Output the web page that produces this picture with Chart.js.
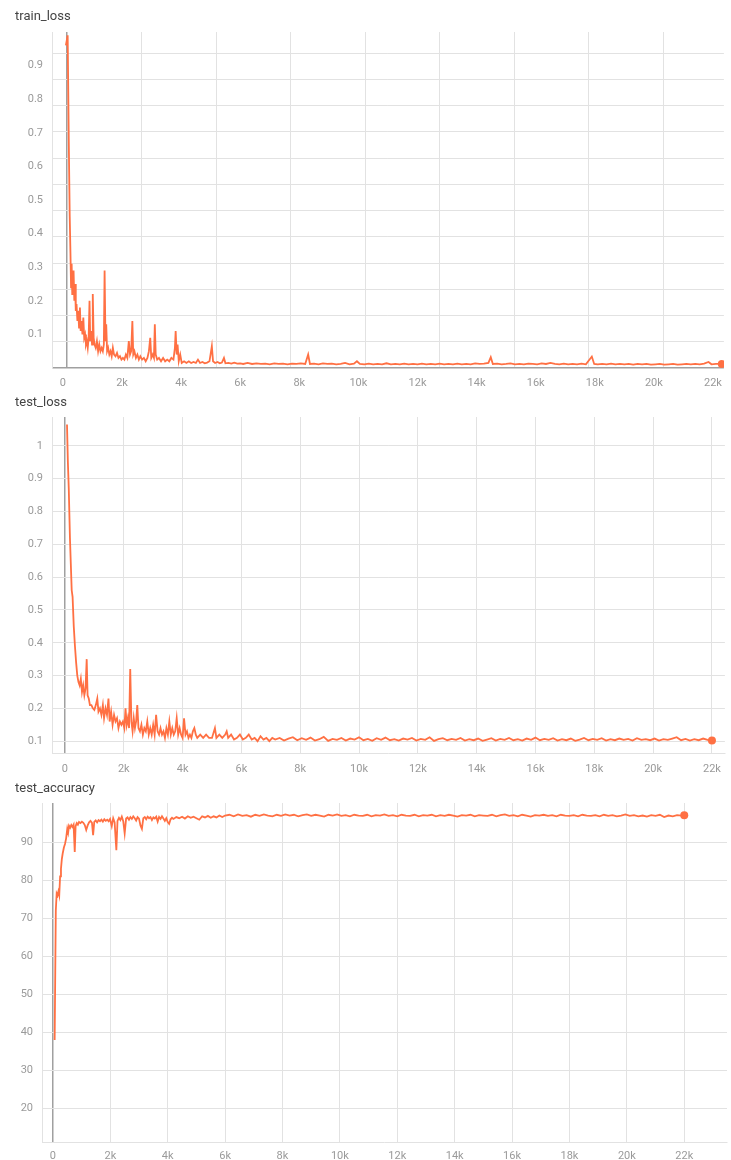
<!DOCTYPE html>
<html lang="en">
<head>
    <meta charset="UTF-8">
    <title>train / test curves</title>
    <script src="https://cdn.jsdelivr.net/npm/chart.js"></script>
    <style>
        body {
            margin: 0;
            padding: 0;
            background: #fff;
            width: 731px;
            height: 1160px;
            overflow: hidden;
            position: relative;
            font-family: Roboto, Arial, sans-serif;
        }
        .title {
            position: absolute;
            left: 15px;
            font-size: 13px;
            line-height: 16px;
            color: #444;
            z-index: 2;
        }
        canvas {
            position: absolute;
            left: 0;
        }
    </style>
</head>
<body>
    <div class="title" style="top: 8px;">train_loss</div>
    <div class="title" style="top: 394px;">test_loss</div>
    <div class="title" style="top: 780px;">test_accuracy</div>

    <canvas id="train-loss" width="731" height="395" style="top: 0px;"></canvas>
    <canvas id="test-loss" width="731" height="385" style="top: 395px;"></canvas>
    <canvas id="test-acc" width="731" height="380" style="top: 780px;"></canvas>

    <script>
        // tick labels
        const stepTicks = [0, 2000, 4000, 6000, 8000, 10000, 12000, 14000, 16000, 18000, 20000, 22000];
        const trainYTicks = [0.1, 0.2, 0.3, 0.4, 0.5, 0.6, 0.7, 0.8, 0.9];
        const testYTicks = [0.1, 0.2, 0.3, 0.4, 0.5, 0.6, 0.7, 0.8, 0.9, 1];
        const accYTicks = [20, 30, 40, 50, 60, 70, 80, 90];

        // [step, value]
        const trainLoss = [
            [100, 0.96], [160, 0.99], [200, 0.66], [230, 0.45], [255, 0.34], [275, 0.24], [295, 0.31],
            [315, 0.22], [340, 0.23], [360, 0.29], [385, 0.20], [410, 0.25], [435, 0.17], [460, 0.19],
            [490, 0.14], [520, 0.17], [545, 0.12], [575, 0.18], [600, 0.11], [630, 0.14], [660, 0.10],
            [690, 0.15], [720, 0.09], [750, 0.10], [780, 0.07], [810, 0.08], [840, 0.06], [870, 0.09],
            [900, 0.20], [925, 0.08], [955, 0.11], [985, 0.07], [1010, 0.22], [1040, 0.09], [1070, 0.07],
            [1110, 0.06], [1150, 0.08], [1190, 0.05], [1230, 0.07], [1270, 0.05], [1310, 0.06], [1350, 0.05],
            [1385, 0.07], [1410, 0.29], [1440, 0.08], [1465, 0.13], [1495, 0.05], [1530, 0.06], [1570, 0.04],
            [1610, 0.05], [1650, 0.035], [1690, 0.06], [1730, 0.04], [1780, 0.035], [1830, 0.045], [1880, 0.03],
            [1930, 0.035], [1980, 0.025], [2030, 0.03], [2080, 0.025], [2130, 0.04], [2180, 0.03], [2230, 0.08],
            [2270, 0.04], [2310, 0.05], [2350, 0.14], [2380, 0.04], [2420, 0.05], [2470, 0.03], [2520, 0.04],
            [2570, 0.025], [2620, 0.035], [2680, 0.025], [2740, 0.03], [2800, 0.02], [2860, 0.03], [2910, 0.05],
            [2955, 0.09], [2990, 0.03], [3040, 0.04], [3080, 0.03], [3110, 0.13], [3140, 0.04], [3190, 0.025],
            [3250, 0.03], [3320, 0.02], [3390, 0.03], [3460, 0.02], [3530, 0.025], [3600, 0.02], [3670, 0.03],
            [3740, 0.025], [3790, 0.06], [3815, 0.11], [3850, 0.04], [3880, 0.07], [3920, 0.02], [3970, 0.04],
            [4020, 0.015], [4100, 0.02], [4180, 0.015], [4260, 0.02], [4340, 0.015], [4420, 0.018], [4500, 0.015],
            [4570, 0.025], [4640, 0.015], [4720, 0.018], [4800, 0.014], [4880, 0.016], [4960, 0.02], [5040, 0.065],
            [5080, 0.02], [5150, 0.015], [5230, 0.018], [5310, 0.014], [5380, 0.016], [5450, 0.03], [5500, 0.014],
            [5600, 0.015], [5700, 0.013], [5800, 0.016], [5900, 0.013], [6000, 0.014], [6100, 0.012], [6250, 0.015],
            [6400, 0.012], [6550, 0.014], [6700, 0.012], [6850, 0.013], [7000, 0.011], [7150, 0.014], [7300, 0.012],
            [7450, 0.013], [7600, 0.011], [7750, 0.013], [7900, 0.012], [8050, 0.014], [8200, 0.012], [8300, 0.040],
            [8360, 0.012], [8500, 0.013], [8650, 0.011], [8800, 0.014], [8950, 0.012], [9100, 0.013], [9250, 0.011],
            [9400, 0.012], [9550, 0.015], [9700, 0.011], [9850, 0.013], [9950, 0.020], [10050, 0.012], [10200, 0.011],
            [10350, 0.013], [10500, 0.011], [10650, 0.012], [10800, 0.011], [10950, 0.014], [11100, 0.011], [11250, 0.012],
            [11400, 0.011], [11550, 0.013], [11700, 0.011], [11850, 0.012], [12000, 0.011], [12150, 0.013], [12300, 0.011],
            [12450, 0.012], [12600, 0.011], [12750, 0.013], [12900, 0.011], [13050, 0.012], [13200, 0.011], [13350, 0.013],
            [13500, 0.011], [13650, 0.012], [13800, 0.011], [13950, 0.014], [14100, 0.012], [14250, 0.013], [14400, 0.015],
            [14480, 0.032], [14550, 0.012], [14700, 0.013], [14850, 0.011], [15000, 0.012], [15150, 0.014], [15300, 0.011],
            [15450, 0.012], [15600, 0.011], [15750, 0.013], [15900, 0.012], [16050, 0.011], [16200, 0.014], [16350, 0.012],
            [16500, 0.015], [16650, 0.012], [16800, 0.011], [16950, 0.013], [17100, 0.011], [17250, 0.012], [17400, 0.011],
            [17550, 0.013], [17700, 0.011], [17900, 0.034], [17980, 0.012], [18100, 0.011], [18250, 0.012], [18400, 0.011],
            [18550, 0.013], [18700, 0.011], [18850, 0.012], [19000, 0.011], [19150, 0.012], [19300, 0.010], [19450, 0.012],
            [19600, 0.011], [19750, 0.012], [19900, 0.010], [20050, 0.011], [20200, 0.012], [20350, 0.010], [20500, 0.011],
            [20650, 0.012], [20800, 0.010], [20950, 0.011], [21100, 0.012], [21250, 0.011], [21400, 0.012], [21550, 0.011],
            [21700, 0.013], [21850, 0.018], [21950, 0.011], [22100, 0.012], [22300, 0.012]
        ];

        const testLoss = [
            [70, 1.065], [100, 0.95], [130, 0.87], [170, 0.72], [200, 0.64], [230, 0.56], [260, 0.54],
            [300, 0.45], [340, 0.39], [380, 0.34], [420, 0.30], [460, 0.28], [500, 0.27], [540, 0.29],
            [580, 0.25], [620, 0.27], [660, 0.24], [700, 0.26], [740, 0.35], [770, 0.24], [810, 0.23],
            [850, 0.21], [900, 0.21], [950, 0.20], [1000, 0.195], [1050, 0.21], [1100, 0.23], [1140, 0.19],
            [1190, 0.20], [1240, 0.18], [1290, 0.21], [1330, 0.17], [1380, 0.20], [1430, 0.18], [1480, 0.23],
            [1520, 0.16], [1570, 0.19], [1620, 0.15], [1670, 0.18], [1720, 0.16], [1770, 0.17], [1820, 0.14],
            [1870, 0.16], [1920, 0.15], [1970, 0.16], [2020, 0.14], [2060, 0.20], [2100, 0.15], [2140, 0.17],
            [2180, 0.14], [2220, 0.32], [2260, 0.16], [2300, 0.13], [2340, 0.17], [2380, 0.14], [2420, 0.16],
            [2460, 0.21], [2500, 0.14], [2550, 0.13], [2600, 0.15], [2650, 0.12], [2700, 0.14], [2750, 0.13],
            [2800, 0.16], [2850, 0.12], [2900, 0.14], [2950, 0.12], [3000, 0.15], [3050, 0.12], [3100, 0.18],
            [3150, 0.13], [3200, 0.12], [3250, 0.14], [3300, 0.12], [3350, 0.13], [3400, 0.11], [3450, 0.14],
            [3500, 0.12], [3550, 0.16], [3600, 0.12], [3650, 0.14], [3700, 0.12], [3750, 0.13], [3800, 0.17],
            [3850, 0.12], [3900, 0.14], [3950, 0.12], [4000, 0.11], [4050, 0.17], [4100, 0.12], [4150, 0.13],
            [4200, 0.11], [4250, 0.12], [4300, 0.11], [4350, 0.13], [4400, 0.14], [4450, 0.12], [4500, 0.11],
            [4600, 0.12], [4700, 0.11], [4800, 0.12], [4900, 0.11], [5000, 0.11], [5100, 0.14], [5150, 0.11],
            [5250, 0.12], [5350, 0.11], [5450, 0.12], [5500, 0.13], [5550, 0.11], [5650, 0.12], [5750, 0.105],
            [5850, 0.11], [5950, 0.12], [6050, 0.105], [6150, 0.11], [6250, 0.12], [6350, 0.105], [6450, 0.11],
            [6550, 0.10], [6650, 0.115], [6750, 0.105], [6850, 0.11], [6950, 0.10], [7050, 0.11], [7150, 0.105],
            [7300, 0.11], [7450, 0.102], [7600, 0.108], [7750, 0.112], [7900, 0.103], [8050, 0.109], [8200, 0.104],
            [8350, 0.111], [8500, 0.102], [8650, 0.106], [8800, 0.113], [8950, 0.101], [9100, 0.107], [9250, 0.104],
            [9400, 0.11], [9550, 0.102], [9700, 0.108], [9850, 0.105], [10000, 0.112], [10150, 0.103], [10300, 0.107],
            [10450, 0.101], [10600, 0.109], [10750, 0.104], [10900, 0.111], [11050, 0.103], [11200, 0.106], [11350, 0.102],
            [11500, 0.108], [11650, 0.105], [11800, 0.11], [11950, 0.102], [12100, 0.107], [12250, 0.104], [12400, 0.112],
            [12550, 0.101], [12700, 0.106], [12850, 0.109], [13000, 0.103], [13150, 0.107], [13300, 0.104], [13450, 0.11],
            [13600, 0.102], [13750, 0.106], [13900, 0.103], [14050, 0.108], [14200, 0.101], [14350, 0.105], [14500, 0.109],
            [14650, 0.102], [14800, 0.107], [14950, 0.104], [15100, 0.11], [15250, 0.103], [15400, 0.106], [15550, 0.102],
            [15700, 0.108], [15850, 0.104], [16000, 0.111], [16150, 0.103], [16300, 0.107], [16450, 0.104], [16600, 0.109],
            [16750, 0.102], [16900, 0.106], [17050, 0.103], [17200, 0.108], [17350, 0.101], [17500, 0.105], [17650, 0.11],
            [17800, 0.103], [17950, 0.107], [18100, 0.104], [18250, 0.109], [18400, 0.102], [18550, 0.106], [18700, 0.103],
            [18850, 0.108], [19000, 0.104], [19150, 0.107], [19300, 0.102], [19450, 0.109], [19600, 0.104], [19750, 0.106],
            [19900, 0.103], [20050, 0.108], [20200, 0.102], [20350, 0.106], [20500, 0.104], [20650, 0.108], [20800, 0.112],
            [20950, 0.103], [21100, 0.107], [21250, 0.102], [21400, 0.106], [21550, 0.103], [21700, 0.108], [21850, 0.104],
            [22000, 0.102]
        ];

        const testAccuracy = [
            [60, 37.9], [100, 72], [130, 76.5], [160, 76], [190, 77], [220, 76], [250, 81],
            [280, 83], [310, 85.5], [340, 87], [380, 88.5], [420, 89.5], [460, 91], [500, 93.5], [530, 92.5],
            [560, 94.3], [600, 93.8], [640, 94.5], [680, 94], [720, 94.6], [760, 87.4], [790, 94.2], [830, 95],
            [870, 94.6], [910, 95.3], [960, 95], [1010, 95.4], [1060, 95.1], [1110, 94.5], [1160, 93.2], [1210, 94.4],
            [1260, 95.2], [1310, 95.6], [1360, 95.1], [1400, 91.8], [1440, 95.3], [1490, 95.7], [1540, 95.2], [1590, 95.8],
            [1640, 95.5], [1690, 95.9], [1740, 95.4], [1790, 96], [1840, 95.6], [1890, 95.9], [1940, 95.5], [1990, 96.1],
            [2050, 94.2], [2100, 96.3], [2150, 95.2], [2210, 87.9], [2250, 95.6], [2300, 96.4], [2350, 95.8], [2400, 96.7],
            [2450, 95.5], [2500, 92.3], [2550, 96.2], [2600, 96.5], [2650, 95.9], [2700, 96.6], [2750, 96.1], [2800, 96.8],
            [2850, 96.3], [2900, 95.7], [2950, 96.6], [3000, 96.2], [3050, 94.4], [3100, 93.5], [3150, 96.3], [3200, 96.6],
            [3250, 96], [3300, 96.7], [3350, 96.3], [3400, 96.6], [3450, 95.8], [3500, 96.5], [3550, 96.2], [3600, 96.7],
            [3650, 95.4], [3700, 96.6], [3750, 96.1], [3800, 96.8], [3850, 96.2], [3900, 95.6], [3950, 96.3], [4000, 95.3],
            [4050, 94.8], [4100, 96], [4150, 96.4], [4200, 96.1], [4300, 96.6], [4400, 96.3], [4500, 96.7], [4600, 96.2],
            [4700, 96.8], [4800, 96.4], [4900, 96.7], [5000, 96.3], [5100, 95.9], [5200, 96.8], [5300, 96.5], [5400, 96.9],
            [5500, 96.4], [5600, 96.8], [5700, 96.5], [5800, 97], [5900, 96.6], [6000, 97], [6150, 97.2], [6300, 96.8],
            [6450, 97.3], [6600, 96.9], [6750, 97.1], [6900, 96.7], [7050, 97.2], [7200, 96.9], [7350, 97.3], [7500, 97],
            [7650, 96.8], [7800, 97.2], [7950, 96.9], [8100, 97.3], [8250, 97], [8400, 97.2], [8550, 96.8], [8700, 97.1],
            [8850, 97.3], [9000, 96.9], [9150, 97.2], [9300, 97], [9450, 96.7], [9600, 97.2], [9750, 97], [9900, 97.3],
            [10050, 96.9], [10200, 97.1], [10350, 96.8], [10500, 97.2], [10650, 97], [10800, 96.9], [10950, 97.2], [11100, 96.8],
            [11250, 97.1], [11400, 97], [11550, 97.3], [11700, 96.9], [11850, 97.1], [12000, 96.8], [12150, 97.2], [12300, 97],
            [12450, 96.9], [12600, 97.2], [12750, 96.8], [12900, 97.1], [13050, 97], [13200, 97.2], [13350, 96.8], [13500, 97.1],
            [13650, 96.9], [13800, 97.2], [13950, 97], [14100, 96.7], [14250, 97.1], [14400, 97], [14550, 97.2], [14700, 96.8],
            [14850, 97.1], [15000, 97], [15150, 96.9], [15300, 97.2], [15450, 96.8], [15600, 97.1], [15750, 97.3], [15900, 96.9],
            [16050, 97.1], [16200, 96.8], [16350, 97.2], [16500, 97], [16650, 96.7], [16800, 97.1], [16950, 97], [17100, 97.2],
            [17250, 96.9], [17400, 97.1], [17550, 96.8], [17700, 97.2], [17850, 97], [18000, 96.9], [18150, 97.1], [18300, 96.8],
            [18450, 97.2], [18600, 97], [18750, 96.9], [18900, 97.1], [19050, 96.8], [19200, 97.2], [19350, 96.9], [19500, 97.1],
            [19650, 96.8], [19800, 97], [19950, 97.3], [20100, 96.9], [20250, 97.1], [20400, 96.8], [20550, 97], [20700, 96.7],
            [20850, 97.1], [21000, 96.9], [21150, 97.2], [21300, 96.6], [21450, 97], [21600, 96.8], [21750, 97.1], [21900, 97],
            [22000, 97.1]
        ];

        const ORANGE = '#ff7043';
        const GRID = '#e2e2e2';
        const AXIS = '#a0a0a0';
        const TICK = '#9a9a9a';
        const tickFont = { family: 'Roboto', size: 11 };

        const kLabel = v => v === 0 ? '0' : (v / 1000) + 'k';
        const gridColor = c => (c.tick && c.tick.value === 0) ? AXIS : GRID;
        const gridWidth = c => (c.tick && c.tick.value === 0) ? 1.5 : 1;

        function buildChart(id, points, o) {
            const last = points.length - 1;
            const scales = {
                x: {
                    type: 'linear', position: 'bottom', min: o.xMin, max: o.xMax,
                    afterBuildTicks: s => { s.ticks = stepTicks.map(v => ({ value: v })); },
                    afterFit: s => { s.height = o.xHeight; },
                    ticks: { padding: o.xPad, color: TICK, font: tickFont, callback: kLabel, maxRotation: 0, autoSkip: false },
                    grid: { display: !o.oddGrid, drawTicks: false, color: gridColor, lineWidth: gridWidth },
                    border: { display: o.bottomBorder, color: GRID }
                },
                y: {
                    type: 'linear', position: 'left', min: o.yMin, max: o.yMax,
                    afterBuildTicks: s => { s.ticks = o.yTicks.map(v => ({ value: v })); },
                    afterFit: s => { s.width = o.yWidth; },
                    ticks: { padding: 9, color: TICK, font: tickFont, autoSkip: false, callback: v => String(v) },
                    grid: { display: !o.oddGrid, drawTicks: false, color: GRID },
                    border: { display: true, color: GRID }
                }
            };
            if (o.oddGrid) {
                // the grid of this panel does not sit on its tick labels
                scales.xGrid = {
                    type: 'linear', position: 'bottom', min: o.oddGrid.xMin, max: o.oddGrid.xMax,
                    afterFit: s => { s.height = 0; },
                    ticks: { display: false, stepSize: 1, includeBounds: false },
                    grid: { drawTicks: false, color: gridColor, lineWidth: gridWidth },
                    border: { display: false }
                };
                scales.yGrid = {
                    type: 'linear', position: 'left', min: o.oddGrid.yMin, max: o.oddGrid.yMax,
                    afterFit: s => { s.width = 0; },
                    ticks: { display: false, stepSize: 1, includeBounds: false },
                    grid: { drawTicks: false, color: gridColor, lineWidth: gridWidth },
                    border: { display: false }
                };
            }
            return new Chart(document.getElementById(id), {
                type: 'line',
                data: {
                    datasets: [{
                        data: points.map(p => ({ x: p[0], y: p[1] })),
                        borderColor: ORANGE,
                        backgroundColor: ORANGE,
                        borderWidth: 1.8,
                        tension: 0,
                        pointRadius: ctx => ctx.dataIndex === last ? 4 : 0,
                        pointBorderWidth: 0
                    }]
                },
                options: {
                    responsive: false,
                    animation: false,
                    layout: { padding: { top: o.top, left: 0, right: 0, bottom: 0 } },
                    plugins: { legend: { display: false }, tooltip: { enabled: false }, title: { display: false } },
                    scales: scales
                }
            });
        }

        buildChart('train-loss', trainLoss, {
            top: 32, xHeight: 27, xPad: 9, yWidth: 52,
            xMin: -370, xMax: 22370, yMin: 0, yMax: 1.0, yTicks: trainYTicks,
            bottomBorder: false,
            oddGrid: { xMin: -0.2, xMax: 8.81, yMin: 0, yMax: 12.8 }
        });

        buildChart('test-loss', testLoss, {
            top: 22, xHeight: 27, xPad: 10, yWidth: 52,
            xMin: -440, xMax: 22440, yMin: 0.064, yMax: 1.088, yTicks: testYTicks,
            bottomBorder: true, oddGrid: null
        });

        buildChart('test-acc', testAccuracy, {
            top: 23, xHeight: 18, xPad: 8, yWidth: 42,
            xMin: -381, xMax: 23490, yMin: 11.05, yMax: 100.3, yTicks: accYTicks,
            bottomBorder: true, oddGrid: null
        });
    </script>
</body>
</html>
